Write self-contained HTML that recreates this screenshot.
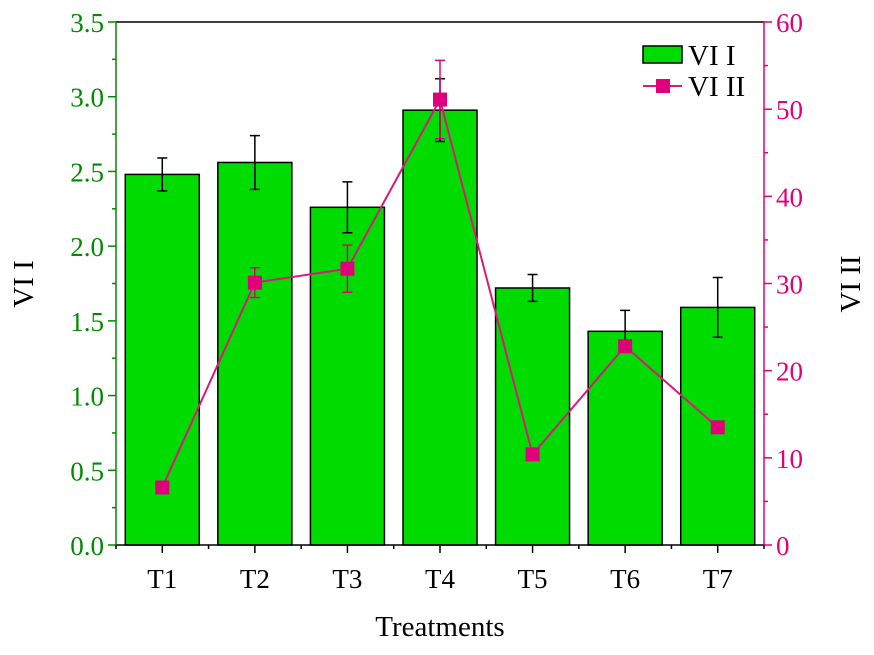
<!DOCTYPE html>
<html><head><meta charset="utf-8"><style>
body{margin:0;background:#fff}
svg text{font-family:"Liberation Serif",serif}
</style></head><body>
<svg id="c" width="874" height="650"></svg>
<script>
const categories=["T1","T2","T3","T4","T5","T6","T7"];
const vi1=[2.48,2.56,2.26,2.91,1.72,1.43,1.59];
const vi1Err=[0.11,0.18,0.17,0.21,0.09,0.14,0.20];
const vi2=[6.6,30.1,31.7,51.1,10.4,22.8,13.5];
const vi2Err=[0,1.7,2.7,4.5,0.6,0,0];
const leftTicks=[0,0.5,1,1.5,2,2.5,3,3.5];
const rightTicks=[0,10,20,30,40,50,60];
const L=116,R=764,T=22,B=545;
const G="#008a00",P="#e0007a";
const yL=v=>B-(B-T)*v/3.5, yR=v=>B-(B-T)*v/60;
const step=(R-L)/7, xC=i=>L+step*(i+0.5);
const svg=document.getElementById('c');
function el(t,a,txt){const e=document.createElementNS("http://www.w3.org/2000/svg",t);for(const k in a)e.setAttribute(k,a[k]);if(txt!=null)e.textContent=txt;svg.appendChild(e);return e;}
vi1.forEach((v,i)=>{
 const b=el('rect',{x:xC(i)-37,y:yL(v),width:74,height:B-yL(v),fill:'#00dc00',stroke:'#000','stroke-width':1.5});
 
 
 const x=xC(i),y1=yL(v+vi1Err[i]),y2=yL(v-vi1Err[i]);
 const e=el('path',{d:`M${x},${y1}V${y2}M${x-5},${y1}H${x+5}M${x-5},${y2}H${x+5}`,stroke:'#000','stroke-width':1.5,fill:'none'});
 
 
});
const ln=el('polyline',{points:vi2.map((v,i)=>xC(i)+','+yR(v)).join(' '),fill:'none',stroke:'#d8197f','stroke-width':2});


vi2.forEach((v,i)=>{
 const x=xC(i);
 if(vi2Err[i]>0){const y1=yR(v+vi2Err[i]),y2=yR(v-vi2Err[i]);
 const e=el('path',{d:`M${x},${y1}V${y2}M${x-5},${y1}H${x+5}M${x-5},${y2}H${x+5}`,stroke:P,'stroke-width':1.5,fill:'none'});
 
 }
 const m=el('rect',{x:x-7,y:yR(v)-7,width:14,height:14,fill:P});
 
 
});
el('line',{x1:L,y1:T,x2:R,y2:T,stroke:'#000','stroke-width':1.5});
el('line',{x1:L,y1:B,x2:R,y2:B,stroke:'#000','stroke-width':1.5});
el('line',{x1:L,y1:T,x2:L,y2:B,stroke:G,'stroke-width':1.5});
el('line',{x1:R,y1:T,x2:R,y2:B,stroke:P,'stroke-width':1.5});
leftTicks.forEach((v,i)=>{
 el('line',{x1:L-8,x2:L,y1:yL(v),y2:yL(v),stroke:G,'stroke-width':1.5});
 if(i<leftTicks.length-1)el('line',{x1:L-4,x2:L,y1:yL(v+0.25),y2:yL(v+0.25),stroke:G,'stroke-width':1.5});
 const t=el('text',{x:L-12,y:yL(v)+10,'text-anchor':'end','font-size':27,fill:G},v.toFixed(1));
 
 
});
rightTicks.forEach((v,i)=>{
 el('line',{x1:R,x2:R+8,y1:yR(v),y2:yR(v),stroke:P,'stroke-width':1.5});
 if(i<rightTicks.length-1)el('line',{x1:R,x2:R+4,y1:yR(v+5),y2:yR(v+5),stroke:P,'stroke-width':1.5});
 const t=el('text',{x:R+12,y:yR(v)+10,'font-size':27,fill:P},String(v));
 
 
});
for(let i=0;i<=7;i++){el('line',{x1:L+step*i,x2:L+step*i,y1:B,y2:B+4,stroke:'#000','stroke-width':1.5});}
categories.forEach((c,i)=>{
 el('line',{x1:xC(i),x2:xC(i),y1:B,y2:B+8,stroke:'#000','stroke-width':1.5});
 const t=el('text',{x:xC(i),y:B+43,'text-anchor':'middle','font-size':27},c);
 
 
});
const xt=el('text',{x:440,y:636,'text-anchor':'middle','font-size':29},'Treatments');


const yt=el('text',{x:0,y:0,'text-anchor':'middle','font-size':29,transform:'translate(33,284) rotate(-90)'},'VI I');


const yt2=el('text',{x:0,y:0,'text-anchor':'middle','font-size':29,transform:'translate(860,284) rotate(-90)'},'VI II');


const l1=el('rect',{x:643,y:46,width:39,height:17,fill:'#00dc00',stroke:'#000','stroke-width':1.5});


el('text',{x:688,y:65,'font-size':29},'VI I');
const l2=el('line',{x1:643,x2:682,y1:86,y2:86,stroke:'#d8197f','stroke-width':2});


el('rect',{x:656,y:79,width:14,height:14,fill:P});
el('text',{x:688,y:96,'font-size':29},'VI II');
</script>
</body></html>
